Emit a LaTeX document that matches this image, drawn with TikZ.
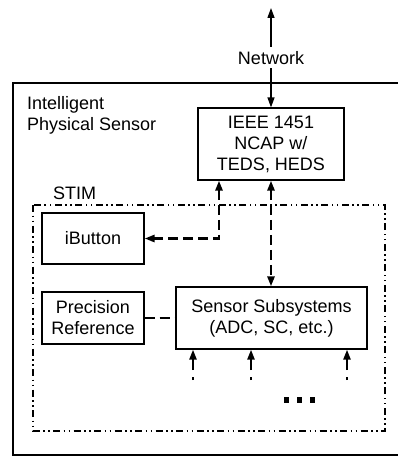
\documentclass[tikz,border=0pt]{standalone}
\usepackage{fontspec}
\setmainfont{Liberation Sans}
\usetikzlibrary{arrows.meta}
\begin{document}
\begin{tikzpicture}[x=1pt,y=-1pt,
  lbl/.style={font=\fontsize{18}{21}\selectfont, inner sep=0pt},
  blk/.style={draw, line width=1.2pt, lbl, align=center},
  tipend/.style={-{Triangle[length=10pt,width=7pt]}},
  tipboth/.style={{Triangle[length=10pt,width=7pt]}-{Triangle[length=10pt,width=7pt]}},
  dashln/.style={line width=2.5pt, dash pattern=on 10pt off 5pt},
  stimln/.style={line width=2.2pt, dash pattern=on 7pt off 3.5pt on 1.5pt off 3.5pt on 1.5pt off 3.5pt},
  inputln/.style={line width=2.3pt, dash pattern=on 3pt off 7pt on 40pt},
  dotsq/.style={fill=black, minimum size=5.5pt, inner sep=0pt},
]
\useasboundingbox (0,0) rectangle (398,457);
\clip (0,0) rectangle (398,457);
% outer frame (right side beyond the picture)
\draw[line width=2.5pt] (13,83) rectangle (420,455);
\node[lbl, anchor=north west, align=left] (ips) at (27,96) {Intelligent\\Physical Sensor};
% STIM frame
\draw[stimln] (33,205) rectangle (385,431);
\node[lbl, anchor=base west] (stim) at (53,199) {STIM};
% blocks
\node[blk, minimum width=146pt, minimum height=72pt] (ncap) at (271,144) {IEEE 1451\\NCAP w/\\TEDS, HEDS};
\node[blk, minimum width=102pt, minimum height=51pt] (ibutton) at (93,238.5) {iButton};
\node[blk, minimum width=102pt, minimum height=52pt] (prec) at (93,318) {Precision\\Reference};
\node[blk, minimum width=191pt, minimum height=62pt] (sens) at (271.5,318) {Sensor Subsystems\\(ADC, SC, etc.)};
% network
\coordinate (net) at (271,8);
\draw[tipboth, line width=1.3pt] (net) -- (ncap.north) node[midway, lbl, fill=white, inner sep=4pt] (netlbl) {Network};
% connectors
\coordinate (c1) at (219,239);
\draw[dashln, tipboth] (ncap.south -| c1) -- (c1 |- ibutton.east) -- (ibutton.east);
\draw[dashln, tipboth] (ncap.south) -- (ncap.south |- sens.north);
\draw[dashln] (prec.east) -- (sens.west);
% inputs
\coordinate (in1) at (193,380);
\coordinate (in2) at (251,380);
\coordinate (in3) at (347,380);
\draw[inputln, tipend] (in1) -- (in1 |- sens.south);
\draw[inputln, tipend] (in2) -- (in2 |- sens.south);
\draw[inputln, tipend] (in3) -- (in3 |- sens.south);
% ellipsis
\node[dotsq] (d1) at (286.5,400) {};
\node[dotsq] (d2) at (299.5,400) {};
\node[dotsq] (d3) at (312.5,400) {};
\end{tikzpicture}
\end{document}
